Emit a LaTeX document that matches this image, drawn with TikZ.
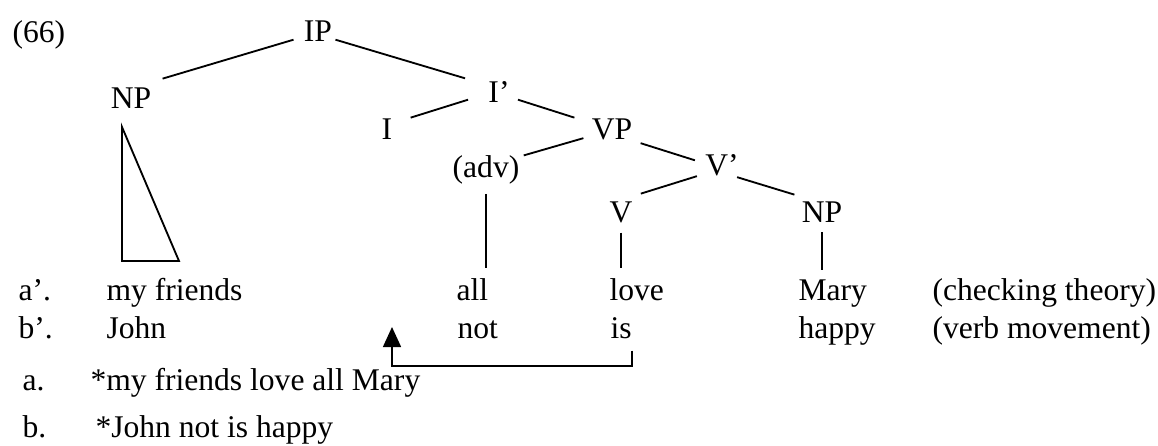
\documentclass[tikz,border=0pt]{standalone}
\usepackage{fontspec}
\setmainfont{Liberation Serif}
\usetikzlibrary{arrows.meta}
\tikzset{
  cat/.style={inner xsep=3pt, inner ysep=1.2pt, anchor=base},
  word/.style={inner sep=0pt, anchor=base west},
  stem/.style={shorten <=2.5pt, shorten >=3.5pt},
  branch/.style={line width=0.7pt},
}

\begin{document}
\begin{tikzpicture}[x=0.38pt, y=-0.38pt, font=\fontsize{12}{14}\selectfont]
\useasboundingbox (0,0) rectangle (1158,445);
\node[word] (exnum) at (12,42) {(66)};
% the tree
\node[cat] (ip) at (318,41) {IP};
\node[cat] (np1) at (131,108) {NP};
\node[cat] (ibar) at (499,102) {I’};
\node[cat] (i) at (387,139) {I};
\node[cat] (vp) at (612,139) {VP};
\node[cat] (adv) at (486,177) {(adv)};
\node[cat] (vbar) at (722,175) {V’};
\node[cat] (v) at (621,222) {V};
\node[cat] (np2) at (822,222) {NP};
\draw[branch] ([shift={(-2,-5)}]ip.south west) -- ([shift={(3,-5)}]np1.north east);
\draw[branch] ([shift={(-5,-5)}]ip.south east) -- ([shift={(-15,1)}]ibar.north west);
\draw[branch] ([shift={(-12,-6)}]ibar.south west) -- ([shift={(10,3)}]i.north east);
\draw[branch] ([shift={(0,-6)}]ibar.south east) -- ([shift={(-9,3)}]vp.north west);
\draw[branch] ([shift={(0,-5)}]vp.south west) -- ([shift={(-4,4)}]adv.north east);
\draw[branch] (vp.south east) -- ([shift={(-2,10)}]vbar.north west);
\draw[branch] ([shift={(0,-3)}]vbar.south west) -- ([shift={(0,-4)}]v.north east);
\draw[branch] ([shift={(-10,-2)}]vbar.south east) -- ([shift={(1,-3)}]np2.north west);
\draw[branch] (122,127) -- (179,261) -- (122,261) -- cycle;
% the two sentences under it
\node[word] (aprime) at (18,300) {a’.};
\node[word] (friends) at (106,300) {my friends};
\node[word] (all) at (456,300) {all};
\node[word] (love) at (609,300) {love};
\node[word] (mary) at (798,300) {Mary};
\node[word] (checking) at (932,300) {(checking theory)};
\node[word] (bprime) at (18,338) {b’.};
\node[word] (john) at (106,338) {John};
\node[word] (not) at (457,338) {not};
\node[word] (is) at (610,338) {is};
\node[word] (happy) at (798,338) {happy};
\node[word] (verbmove) at (932,338) {(verb movement)};
\draw[branch, stem] (adv.south) -- (adv.south |- all.north);
\draw[branch, stem] (v.south) -- (v.south |- love.north);
\draw[branch, stem] (np2.south) -- (np2.south |- mary.north);
% V raises to I
\coordinate (landing) at (392,327);
\draw[branch, -{Triangle[width=6.8pt, length=7.6pt]}]
  ([yshift=-4.5pt]is.south east) -- ++(0,15) -| (landing);
% the starred versions
\node[word] (la) at (22,390) {a.};
\node[word] (stara) at (90,390) {*my friends love all Mary};
\node[word] (lb) at (22,437) {b.};
\node[word] (starb) at (95,437) {*John not is happy};
\end{tikzpicture}
\end{document}
